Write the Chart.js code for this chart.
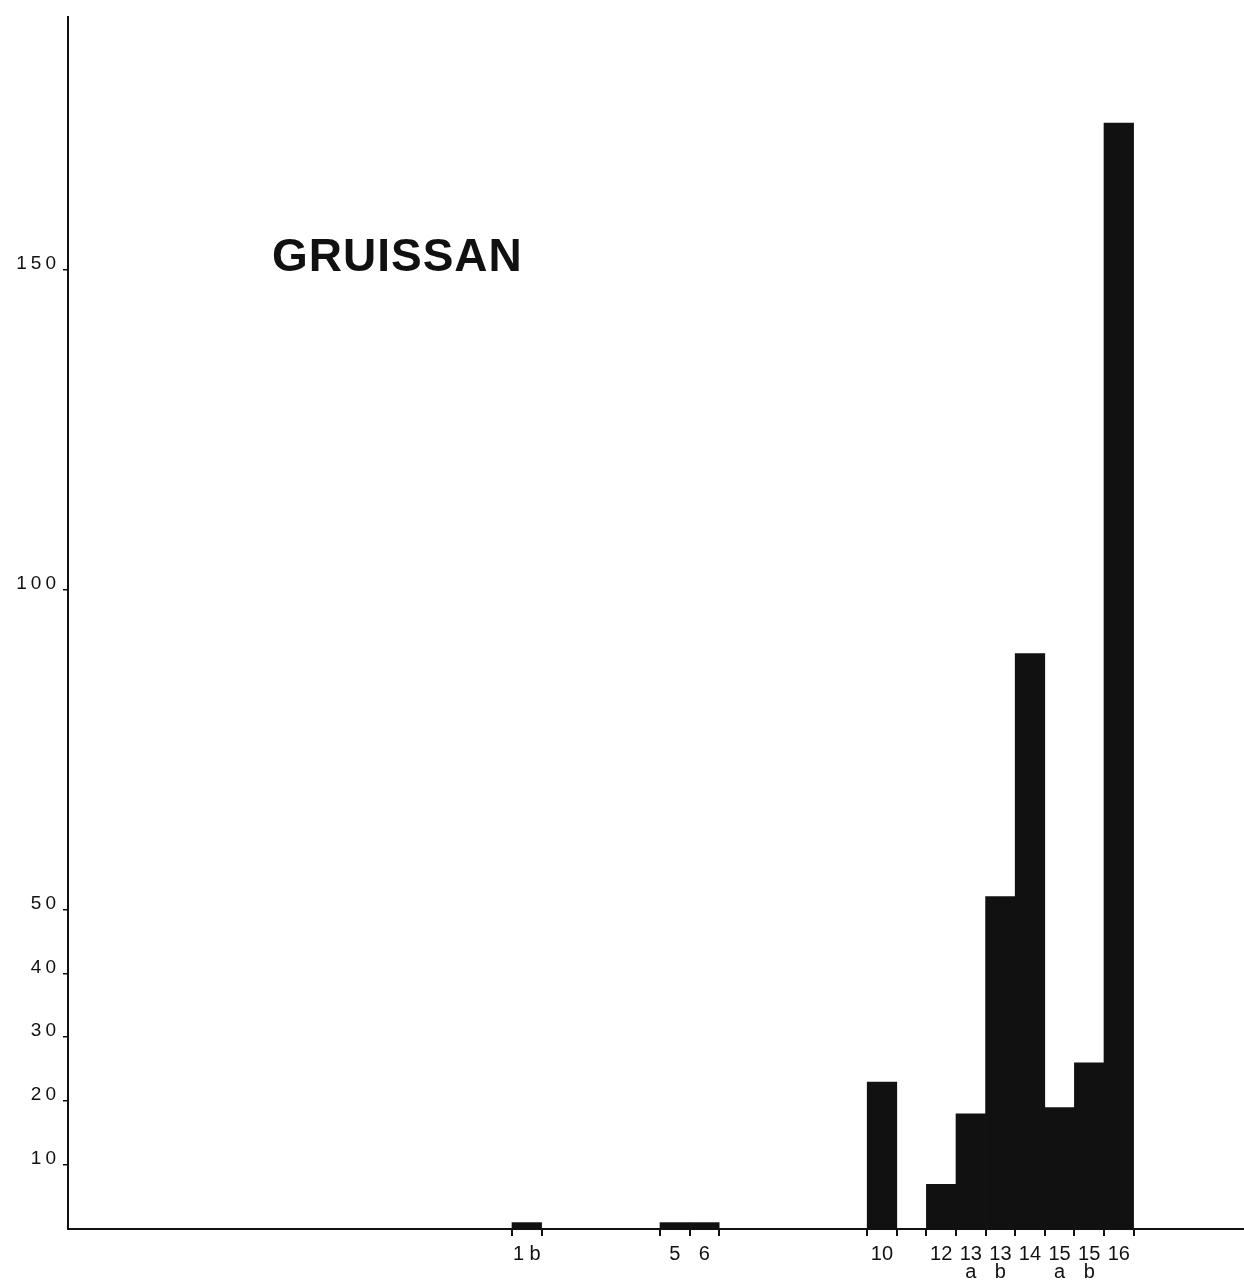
<!DOCTYPE html>
<html>
<head>
<meta charset="utf-8">
<script src="https://cdn.jsdelivr.net/npm/chart.js@4/dist/chart.umd.min.js"></script>
<style>
  html, body { margin: 0; padding: 0; background: #fff; }
  #wrap { width: 1244px; height: 1281px; }
</style>
</head>
<body>
<div id="wrap"><canvas id="c" width="1244" height="1281"></canvas></div>
<script>
// Levels of the sequence and their counts
const levels = ['1b', '5', '6', '10', '12', '13a', '13b', '14', '15a', '15b', '16'];
const levelLabels = [['1 b'], ['5'], ['6'], ['10'], ['12'], ['13', 'a'], ['13', 'b'], ['14'], ['15', 'a'], ['15', 'b'], ['16']];
// ordinal slot of each level along the horizontal sequence
const levelSlots = [15, 20, 21, 27, 29, 30, 31, 32, 33, 34, 35];
const counts = [1, 1, 1, 23, 7, 18, 52, 90, 19, 26, 173];
const yTickValues = [10, 20, 30, 40, 50, 100, 150];
const siteName = 'GRUISSAN';

const INK = '#111';
const FONT = '"Liberation Sans", Arial, sans-serif';
const centers = levelSlots.map(s => s + 0.5);
const points = centers.map((x, i) => ({ x: x, y: counts[i] }));

// Letter-spaced numerals on the vertical axis
const spacedY = {
  id: 'spacedY',
  beforeDraw(chart) {
    const ys = chart.scales.y;
    if (ys._spaced) return;
    const orig = ys.drawLabels;
    ys.drawLabels = function (area) {
      this.ctx.save();
      this.ctx.letterSpacing = '4px';
      orig.call(this, area);
      this.ctx.restore();
    };
    ys._spaced = true;
  }
};

// Small downward ticks at both edges of every bar
const edgeTicks = {
  id: 'edgeTicks',
  afterDatasetsDraw(chart) {
    const xs = chart.scales.x;
    const bottom = chart.chartArea.bottom;
    const seen = new Set();
    const ctx = chart.ctx;
    ctx.save();
    ctx.strokeStyle = INK;
    ctx.lineWidth = 2;
    centers.forEach(c => {
      [c - 0.5, c + 0.5].forEach(v => {
        const key = v.toFixed(2);
        if (seen.has(key)) return;
        seen.add(key);
        const px = Math.round(xs.getPixelForValue(v));
        ctx.beginPath();
        ctx.moveTo(px, bottom);
        ctx.lineTo(px, bottom + 7);
        ctx.stroke();
      });
    });
    ctx.restore();
  }
};

// Site name lettered inside the plot
const siteTitle = {
  id: 'siteTitle',
  afterDraw(chart) {
    const ctx = chart.ctx;
    ctx.save();
    ctx.letterSpacing = '1px';
    ctx.font = 'bold 46px ' + FONT;
    ctx.fillStyle = INK;
    ctx.textBaseline = 'alphabetic';
    ctx.fillText(siteName, 272, 271);
    ctx.restore();
  }
};

new Chart(document.getElementById('c'), {
  type: 'bar',
  data: {
    datasets: [{
      label: siteName,
      data: points,
      backgroundColor: INK,
      borderWidth: 0,
      barPercentage: 1,
      categoryPercentage: 1
    }]
  },
  options: {
    responsive: false,
    animation: false,
    devicePixelRatio: 1,
    layout: { padding: { top: 17, right: 0, left: 0, bottom: 0 } },
    plugins: {
      legend: { display: false },
      tooltip: { enabled: false },
      title: { display: false }
    },
    scales: {
      x: {
        type: 'linear',
        min: 0,
        max: 39.73,
        offset: false,
        grid: { display: false, drawTicks: false, offset: false },
        border: { display: true, color: INK, width: 2 },
        afterBuildTicks(scale) {
          scale.ticks = centers.map(v => ({ value: v }));
        },
        afterFit(scale) { scale.height = 52; },
        ticks: {
          autoSkip: false,
          maxRotation: 0,
          minRotation: 0,
          padding: 16,
          color: INK,
          font: { family: FONT, size: 20, lineHeight: 0.9 },
          callback: (value, index) => levelLabels[index]
        }
      },
      y: {
        type: 'linear',
        min: 0,
        max: 189.6,
        grid: {
          drawOnChartArea: false,
          drawTicks: true,
          tickLength: 5,
          color: INK,
          lineWidth: 1.5
        },
        border: { display: true, color: INK, width: 2 },
        afterBuildTicks(scale) {
          scale.ticks = yTickValues.map(v => ({ value: v }));
        },
        afterFit(scale) { scale.width = 68; },
        ticks: {
          padding: 3,
          labelOffset: -6,
          color: INK,
          font: { family: FONT, size: 19 },
          callback: v => String(v)
        }
      }
    }
  },
  plugins: [spacedY, edgeTicks, siteTitle]
});
</script>
</body>
</html>
